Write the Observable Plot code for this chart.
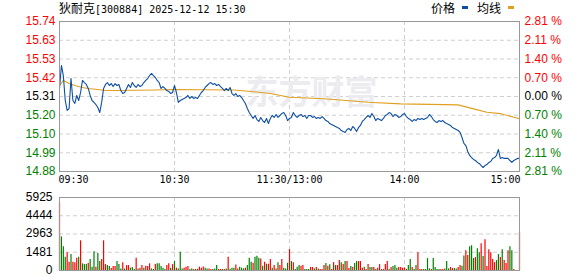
<!DOCTYPE html>
<html>
<head>
<meta charset="utf-8">
<script src="https://cdn.jsdelivr.net/npm/d3@7"></script>
<script src="https://cdn.jsdelivr.net/npm/@observablehq/plot@0.6"></script>
<style>
  html, body { margin: 0; padding: 0; background: #fff; }
  #wrap { position: relative; width: 578px; height: 276px; overflow: hidden; background: #fff; }
  #wrap svg { position: absolute; left: 0; }
  .lbl { position: absolute; font-size: 12px; line-height: 14px; color: #000; white-space: nowrap; }
  .cjk { font-family: "Noto Sans CJK SC", sans-serif; font-size: 12px; }
  .mono { font-family: "DejaVu Sans Mono", monospace; font-size: 10px; }
  .sw { position: absolute; width: 6px; height: 3px; }
</style>
</head>
<body>
<div id="wrap">
  <div class="lbl" style="left:59px; top:1px;"><span class="cjk">狄耐克</span><span class="mono">[300884] 2025-12-12 15:30</span></div>
  <div class="lbl cjk" style="left:431px; top:1px;">价格</div>
  <div class="sw" style="left:462px; top:6px; background:#0e4fa3;"></div>
  <div class="lbl cjk" style="left:477px; top:1px;">均线</div>
  <div class="sw" style="left:508px; top:6px; background:#e0a020;"></div>
</div>
<script>
// ---------- data ----------
const title = "狄耐克[300884] 2025-12-12 15:30";
const prevClose = 15.31;
const priceTicks = [15.74, 15.6325, 15.525, 15.4175, 15.31, 15.2025, 15.095, 14.9875, 14.88];
const priceTickLabels = ["15.74", "15.63", "15.53", "15.42", "15.31", "15.20", "15.10", "14.99", "14.88"];
const pctTickLabels = ["2.81 %", "2.11 %", "1.40 %", "0.70 %", "0.00 %", "0.70 %", "1.40 %", "2.11 %", "2.81 %"];
const timeTicks = [0, 60, 120, 180, 240];
const timeLabels = ["09:30", "10:30", "11:30/13:00", "14:00", "15:00"];
const volTicks = [0, 1481, 2963, 4444, 5925];
const volTickLabels = ["0", "1481", "2963", "4444", "5925"];

// minute-by-minute price (241 minutes)
const price = [
  15.356,15.488,15.43,15.287,15.23,15.241,15.413,15.287,15.27,15.316,
  15.287,15.333,15.402,15.39,15.379,15.356,15.316,15.287,15.276,15.264,
  15.247,15.218,15.276,15.356,15.379,15.39,15.373,15.384,15.367,15.384,
  15.373,15.379,15.344,15.327,15.333,15.356,15.379,15.362,15.39,15.373,
  15.362,15.379,15.367,15.373,15.39,15.402,15.413,15.43,15.442,15.43,
  15.419,15.402,15.39,15.356,15.367,15.356,15.344,15.339,15.327,15.333,
  15.373,15.333,15.276,15.287,15.293,15.299,15.304,15.316,15.299,15.31,
  15.299,15.304,15.299,15.316,15.333,15.344,15.362,15.373,15.384,15.39,
  15.379,15.384,15.373,15.379,15.367,15.356,15.344,15.356,15.344,15.362,
  15.327,15.316,15.327,15.31,15.316,15.304,15.287,15.27,15.241,15.218,
  15.201,15.184,15.201,15.178,15.167,15.19,15.172,15.161,15.184,15.155,
  15.184,15.201,15.19,15.207,15.19,15.201,15.213,15.218,15.201,15.172,
  15.184,15.19,15.218,15.201,15.19,15.201,15.207,15.195,15.201,15.184,
  15.201,15.201,15.19,15.195,15.184,15.19,15.184,15.195,15.184,15.172,
  15.167,15.155,15.15,15.144,15.138,15.132,15.127,15.115,15.109,15.104,
  15.121,15.127,15.115,15.138,15.127,15.109,15.132,15.144,15.167,15.178,
  15.19,15.201,15.19,15.213,15.195,15.172,15.184,15.178,15.172,15.184,
  15.201,15.207,15.218,15.213,15.195,15.207,15.201,15.19,15.195,15.207,
  15.213,15.195,15.184,15.178,15.167,15.178,15.172,15.184,15.178,15.184,
  15.178,15.184,15.19,15.207,15.195,15.178,15.167,15.161,15.172,15.167,
  15.172,15.161,15.155,15.15,15.144,15.132,15.127,15.121,15.115,15.104,
  15.075,15.041,15.029,14.995,14.972,14.96,14.949,14.943,14.932,14.926,
  14.914,14.903,14.914,14.92,14.932,14.937,14.955,14.96,14.972,15.006,
  14.955,14.96,14.955,14.955,14.955,14.943,14.932,14.943,14.949,14.955,14.955
];

// average price line, read at these minutes
const avgMinutes = [0, 2, 5, 8, 12, 15, 20, 24, 29, 50, 59, 91, 100, 110, 120, 138, 161, 178, 208, 216, 223, 230, 240];
const avgPrice = [15.373, 15.402, 15.384, 15.373, 15.362, 15.356, 15.35, 15.344, 15.344, 15.347, 15.35, 15.347, 15.339, 15.327, 15.306, 15.297, 15.277, 15.268, 15.262, 15.239, 15.22, 15.212, 15.182];

// volume per minute (241) and direction (r = up, g = down)
const volume = [
  5490,2730,1930,1070,1450,670,1290,670,620,990,
  1070,2410,540,480,480,590,885,270,1530,270,
  1370,725,885,2410,480,400,320,160,320,320,
  725,480,130,620,130,400,400,190,240,80,
  990,130,190,400,190,350,320,540,130,80,
  480,540,540,320,190,80,400,540,190,480,
  725,190,130,1475,130,190,270,320,80,130,
  80,80,100,270,190,290,190,130,130,80,
  80,130,400,80,80,80,80,130,1070,100,
  190,190,450,130,270,190,130,190,400,990,
  670,590,1070,1150,990,940,350,670,510,510,
  885,190,400,130,620,400,885,190,130,590,
  1690,725,620,80,270,400,350,400,80,80,
  80,240,240,130,240,130,80,80,400,560,
  350,460,80,640,400,400,805,620,480,725,
  725,160,320,240,560,725,725,725,190,270,
  80,480,240,240,240,80,190,480,80,80,
  480,725,80,240,320,400,190,240,240,190,
  190,80,400,885,240,80,400,1450,80,80,
  80,80,965,130,80,965,240,80,80,80,
  80,130,725,130,240,160,160,130,240,400,
  350,1180,1610,1210,1930,2010,965,1045,1770,1450,
  2170,1130,2500,320,1690,1450,885,640,805,1290,
  1045,1690,805,560,1610,1930,1610,80,0,0,3060
];
const volDir = (
  "rgggrrgrrr" + "grgggrgggr" + "ggrrrggrrr" + "gggrgrrggg" + "rgrrgrrrgg" +
  "rgggggrrgr" + "grgggrrrgg" + "rgrrrrggrr" + "gggrrgrgrg" + "ggrrgggrgg" +
  "grgggrgrgr" + "rgrrgrrggg" + "rgrgggrrgg" + "grrgrgrrrg" + "rgrrgrrgrg" +
  "rrgrggrrrg" + "rrggrrrrgr" + "rrgrgggrrr" + "rgggrggrrr" + "ggggrggggr" +
  "rgggrrggrr" + "ggrrgggrgg" + "rgrrrrrrgg" + "rgrrrggrrrr"
).split("");

// ---------- styling ----------
const RED = "#ff0000", GREEN = "#008000", BLACK = "#000000";
const BLUE = "#0e4fa3", GOLD = "#e0a020";
const GRID = "#cfcfcf", FRAME = "#999999";
const sansFont = "'Liberation Sans', Arial, sans-serif";
const monoFont = "'DejaVu Sans Mono', monospace";
const tickColor = d => d > prevClose + 1e-9 ? RED : d < prevClose - 1e-9 ? GREEN : BLACK;

const priceData = price.map((p, i) => ({i, p}));
const avgData = avgMinutes.map((m, k) => ({i: m, p: avgPrice[k]}));
const volData = volume.map((v, i) => ({i, v, c: volDir[i] === "r" ? RED : GREEN}));

const W = 578;
const pricePlot = Plot.plot({
  width: W, height: 190,
  marginTop: 21, marginBottom: 19, marginLeft: 59, marginRight: 59,
  x: {domain: [0, 240], axis: null},
  y: {domain: [14.88, 15.74], axis: null},
  color: {type: "identity"},
  style: {fontFamily: sansFont, fontSize: "12px", background: "transparent", overflow: "visible"},
  marks: [
    Plot.ruleY(priceTicks, {y: d => d, stroke: GRID, strokeDasharray: "4,3"}),
    Plot.ruleX(timeTicks.slice(1, 4), {x: d => d, stroke: GRID, strokeDasharray: "4,3"}),
    Plot.text(["东方财富"], {frameAnchor: "middle", dx: 22, dy: -3, fontSize: 33, fontWeight: "bold", fill: "#ececf0", fontFamily: "'Noto Sans CJK SC', sans-serif"}),
    Plot.line(avgData, {x: "i", y: "p", stroke: GOLD, strokeWidth: 1.1}),
    Plot.line(priceData, {x: "i", y: "p", stroke: BLUE, strokeWidth: 1.1}),
    Plot.frame({stroke: FRAME}),
    Plot.text(priceTicks, {y: d => d, text: (d, k) => priceTickLabels[k], frameAnchor: "left", textAnchor: "end", dx: -4, fill: tickColor, fontSize: 12}),
    Plot.text(priceTicks, {y: d => d, text: (d, k) => pctTickLabels[k], frameAnchor: "right", textAnchor: "start", dx: 5, fill: tickColor, fontSize: 12}),
    Plot.text([timeTicks[0]], {x: d => d, text: () => timeLabels[0], frameAnchor: "bottom", dy: 11, textAnchor: "start", dx: -1, fontFamily: monoFont, fontSize: 10, fill: BLACK}),
    Plot.text(timeTicks.slice(1, 4), {x: d => d, text: (d, k) => timeLabels[k + 1], frameAnchor: "bottom", dy: 11, textAnchor: "middle", fontFamily: monoFont, fontSize: 10, fill: BLACK}),
    Plot.text([timeTicks[4]], {x: d => d, text: () => timeLabels[4], frameAnchor: "bottom", dy: 11, textAnchor: "end", dx: 1, fontFamily: monoFont, fontSize: 10, fill: BLACK})
  ]
});

const volPlot = Plot.plot({
  width: W, height: 86,
  marginTop: 7, marginBottom: 6, marginLeft: 59, marginRight: 59,
  x: {domain: [0, 240], axis: null},
  y: {domain: [0, 5925], axis: null},
  color: {type: "identity"},
  style: {fontFamily: sansFont, fontSize: "12px", background: "transparent", overflow: "visible"},
  marks: [
    Plot.ruleY(volTicks, {y: d => d, stroke: GRID, strokeDasharray: "4,3"}),
    Plot.ruleX(timeTicks.slice(1, 4), {x: d => d, stroke: GRID, strokeDasharray: "4,3"}),
    Plot.ruleX(volData, {x: "i", y1: () => 0, y2: "v", stroke: "c", strokeWidth: 1.2}),
    Plot.frame({stroke: FRAME}),
    Plot.text(volTicks, {y: d => d, text: (d, k) => volTickLabels[k], frameAnchor: "left", textAnchor: "end", dx: -7, dy: -0.5, fill: BLACK, fontSize: 12})
  ]
});

const wrap = document.getElementById("wrap");
pricePlot.style.top = "0px";
volPlot.style.top = "190px";
wrap.insertBefore(volPlot, wrap.firstChild);
wrap.insertBefore(pricePlot, wrap.firstChild);
</script>
</body>
</html>
